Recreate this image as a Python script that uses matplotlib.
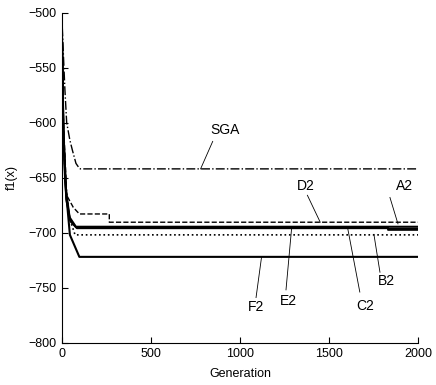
import matplotlib
matplotlib.use("Agg")
import matplotlib.pyplot as plt

plt.rcParams['font.family'] = ['Liberation Sans', 'DejaVu Sans']

# convergence curves: (generation, best f1(x)) breakpoints
sga_gen = [0, 10, 18, 28, 46, 60, 80, 99, 105, 2000]
sga_val = [-500, -540, -570, -600, -616, -625, -637, -641.5, -642, -642]

d2_gen = [0, 10, 28, 65, 99, 120, 267, 267, 2000]
d2_val = [-500, -600, -666, -677, -683, -683, -683, -690.5, -690.5]

a2_gen = [0, 10, 25, 45, 80, 1830, 1830, 2000]
a2_val = [-500, -610, -665, -688, -695, -695, -697.5, -697.5]

c2_gen = [0, 10, 25, 50, 85, 2000]
c2_val = [-500, -615, -670, -690, -696, -696]

e2_gen = [0, 10, 25, 45, 80, 2000]
e2_val = [-500, -605, -662, -686, -694.5, -694.5]

b2_gen = [0, 10, 20, 40, 75, 2000]
b2_val = [-500, -610, -650, -685, -702, -702]

f2_gen = [0, 10, 20, 46, 99, 2000]
f2_val = [-500, -615, -655, -702, -722, -722]

# label text position, pointer start, pointer end
labels = {
    'SGA': ((916, -607), (847, -617), (779, -642)),
    'D2': ((1370, -658), (1378, -666), (1450, -690.5)),
    'A2': ((1924, -658), (1841, -668), (1886, -692)),
    'B2': ((1822, -744), (1785, -736), (1751, -701.5)),
    'C2': ((1700, -767), (1672, -754), (1604, -696)),
    'E2': ((1269, -762), (1258, -752), (1290, -695)),
    'F2': ((1090, -768), (1090, -759), (1121, -722)),
}

fig = plt.figure(figsize=(4.36, 3.85), dpi=100)
ax = fig.add_axes([0.1415, 0.110, 0.8179, 0.857])

ax.plot(sga_gen, sga_val, color='k', ls='-.', lw=1.0)
ax.plot(d2_gen, d2_val, color='k', ls='--', lw=1.0)
ax.plot(a2_gen, a2_val, color='k', ls='-', lw=1.3)
ax.plot(c2_gen, c2_val, color='k', ls='-', lw=1.3)
ax.plot(e2_gen, e2_val, color='k', ls='-', lw=1.3)
ax.plot(b2_gen, b2_val, color='k', ls=':', lw=1.2)
ax.plot(f2_gen, f2_val, color='k', ls='-', lw=1.5)

for name, (txt, start, end) in labels.items():
    ax.text(txt[0], txt[1], name, ha='center', va='center', fontsize=10)
    ax.plot([start[0], end[0]], [start[1], end[1]], color='k', lw=0.6)

ax.set_xlim(0, 2000)
ax.set_ylim(-800, -500)
ax.set_xticks([0, 500, 1000, 1500, 2000])
ax.set_yticks([-800, -750, -700, -650, -600, -550, -500])
ax.spines['top'].set_visible(False)
ax.spines['right'].set_visible(False)
ax.tick_params(direction='in', length=4, labelsize=9, width=0.8)
ax.set_xlabel('Generation', fontsize=9, labelpad=6)
ax.set_ylabel('f1(x)', fontsize=9, labelpad=8)

fig.savefig('out.png', dpi=100)
